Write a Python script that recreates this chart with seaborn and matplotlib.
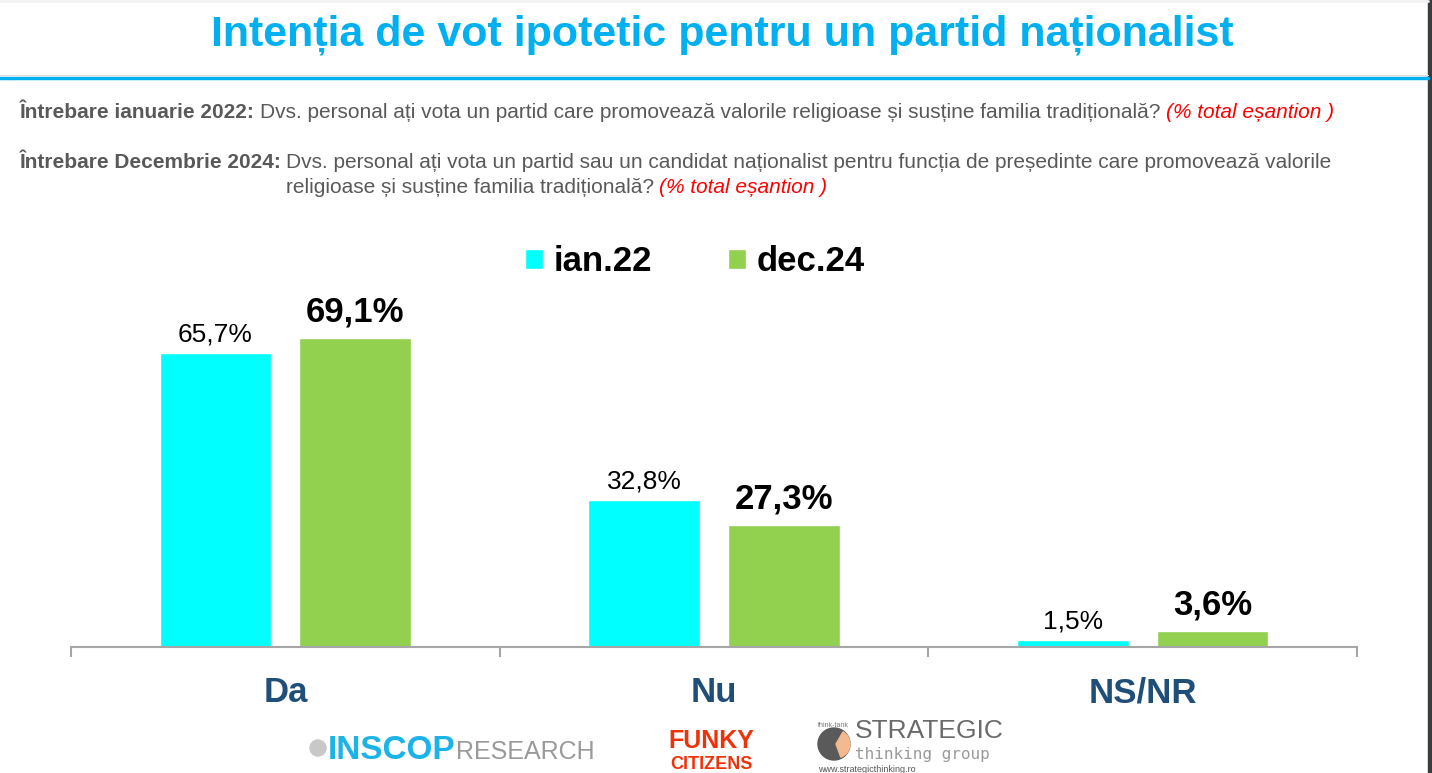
import pandas as pd
import numpy as np
import matplotlib.pyplot as plt
import matplotlib.patches as mpatches
from matplotlib.lines import Line2D
import seaborn as sns

categories = ['Da', 'Nu', 'NS/NR']
ian22 = [65.7, 32.8, 1.5]
dec24 = [69.1, 27.3, 3.6]
periods = ['ian.22', 'dec.24']

df = pd.DataFrame({
    'cat': categories * 2,
    'val': ian22 + dec24,
    'period': [periods[0]] * 3 + [periods[1]] * 3,
})

sns.set_style("white")
plt.rcParams['font.family'] = ['Liberation Sans', 'DejaVu Sans']

W, H = 1432, 773
fig = plt.figure(figsize=(W / 100, H / 100), dpi=100)


def fx(x):
    return x / W


def fy(y):
    return 1 - y / H


def inch(x, y):
    # pixel position (from top-left) -> inches for dpi_scale_trans
    return (x / 100, (H - y) / 100)


ax = fig.add_axes([fx(71), fy(647), fx(1357) - fx(71), fy(289.4) - fy(647)])
sns.barplot(data=df, x='cat', y='val', hue='period', order=categories,
            hue_order=periods, palette=['#00ffff', '#92d050'],
            width=0.652, gap=0.2, saturation=1, ax=ax)
ax.set_xlim(-0.5, 2.5)
ax.set_ylim(0, 80)
ax.set_xlabel('')
ax.set_ylabel('')
ax.set_yticks([])
for s in ['left', 'right', 'top']:
    ax.spines[s].set_visible(False)
ax.spines['bottom'].set_color('#a6a6a6')
ax.spines['bottom'].set_linewidth(1.5)
ax.set_xticks([-0.5, 0.5, 1.5, 2.5], minor=True)
ax.tick_params(axis='x', which='minor', bottom=True, direction='out',
               length=7, width=1.5, color='#a6a6a6')
ax.tick_params(axis='x', which='major', length=0, pad=21)
for lab in ax.get_xticklabels():
    lab.set_fontsize(25)
    lab.set_fontweight('bold')
    lab.set_color('#1f4e79')

fmt = lambda v: f"{v:.1f}".replace('.', ',') + '%'
ax.bar_label(ax.containers[0], labels=[fmt(v) for v in ian22], padding=5,
             fontsize=19, color='black')
ax.bar_label(ax.containers[1], labels=[fmt(v) for v in dec24], padding=7,
             fontsize=25, fontweight='bold', color='black')

sns.move_legend(ax, 'center', bbox_to_anchor=(0.485, 1.077), ncol=2,
                frameon=False, title=None, prop={'weight': 'bold', 'size': 25},
                handlelength=0.52, handleheight=0.52, handletextpad=0.3,
                columnspacing=2.2, labelcolor='black')

# title and frame
fig.text(fx(722), fy(35), 'Intenția de vot ipotetic pentru un partid naționalist',
         ha='center', va='center', fontsize=31, fontweight='bold', color='#00b0f0')
fig.add_artist(Line2D([0, fx(1428)], [fy(77.5), fy(77.5)], color='#00b0f0', lw=2.5))
fig.add_artist(Line2D([0, fx(1428)], [fy(75), fy(75)], color='#dddddd', lw=0.8))
fig.add_artist(Line2D([0, fx(1428)], [fy(1), fy(1)], color='#f2f2f2', lw=2))
fig.add_artist(mpatches.Rectangle((fx(1428), 0), fx(4), 1, color='#3a3d40',
                                  transform=fig.transFigure))

# question texts
renderer = fig.canvas.get_renderer()
gray = '#595959'


def run(parts, x, y, size=15):
    for txt, kw in parts:
        t = fig.text(fx(x), fy(y), txt, va='baseline', ha='left', fontsize=size, **kw)
        x = t.get_window_extent(renderer).x1 + 5
    return x


run([('Întrebare ianuarie 2022:', {'fontweight': 'bold', 'color': gray})], 20, 118)
run([('Dvs. personal ați vota un partid care promovează valorile religioase și susține familia tradițională?', {'color': gray}),
     ('(% total eșantion )', {'color': 'red', 'style': 'italic'})], 260, 118)
run([('Întrebare Decembrie 2024:', {'fontweight': 'bold', 'color': gray})], 20, 168)
run([('Dvs. personal ați vota un partid sau un candidat naționalist pentru funcția de președinte care promovează valorile', {'color': gray})], 286, 168)
run([('religioase și susține familia tradițională?', {'color': gray}),
     ('(% total eșantion )', {'color': 'red', 'style': 'italic'})], 286, 193)

# logos (approximated as text and shapes)
fig.add_artist(mpatches.Circle(inch(318, 748), 0.08, color='#c8c8c8',
                               transform=fig.dpi_scale_trans))
t = fig.text(fx(328), fy(759), 'INSCOP', fontsize=24, fontweight='bold',
             color='#1bb3e8', va='baseline')
x_end = t.get_window_extent(renderer).x1
fig.text(x_end / W, fy(759), 'RESEARCH', fontsize=18, color='#9a9a9a', va='baseline')

fig.text(fx(711), fy(748), 'FUNKY', fontsize=18, fontweight='bold', color='#f0320a',
         ha='center', va='baseline')
fig.text(fx(711), fy(769), 'CITIZENS', fontsize=13, fontweight='bold', color='#f0320a',
         ha='center', va='baseline')

fig.add_artist(mpatches.Circle(inch(834, 744), 0.16, color='#5a5a5a',
                               transform=fig.dpi_scale_trans))
fig.add_artist(mpatches.Wedge(inch(836, 744), 0.14, -70, 60, color='#f3b98f',
                              transform=fig.dpi_scale_trans))
fig.text(fx(818), fy(727), 'think-tank', fontsize=5, color='#777777', va='baseline')
fig.text(fx(855), fy(738.5), 'STRATEGIC', fontsize=19, color='#6a6a6a', va='baseline')
fig.text(fx(855), fy(759), 'thinking group', fontsize=11.5, color='#9a9a9a',
         va='baseline', family='DejaVu Sans Mono')
fig.text(fx(818), fy(772), 'www.strategicthinking.ro', fontsize=6.5, color='#555555',
         va='baseline')

fig.savefig('out.png', dpi=100)
